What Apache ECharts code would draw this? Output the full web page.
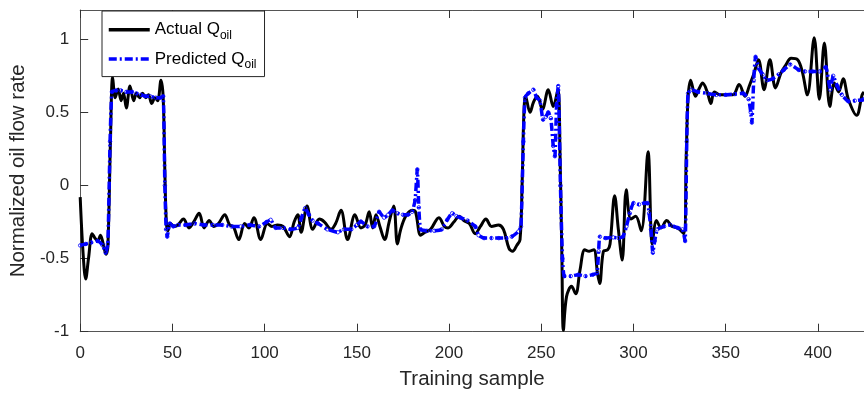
<!DOCTYPE html>
<html>
<head>
<meta charset="utf-8">
<script src="https://cdn.jsdelivr.net/npm/echarts@6/dist/echarts.min.js"></script>
<style>
  html, body { margin: 0; padding: 0; background: #fff; }
  #chart { width: 864px; height: 396px; }
</style>
</head>
<body>
<div id="chart"></div>
<script>
// Measured oil flow rate (normalized) per training sample
const actualSample = [
  0, 1.5, 3, 4.5, 6.5, 8, 9.5, 11, 12.5, 14, 15, 16.4, 17.6, 19, 20.6, 22.2, 23.5, 25, 27, 29,
  30.5, 32.2, 33.8, 35.5, 37, 38.8, 40.5, 42, 43.8, 45, 45.9, 46.7, 47.5, 49, 51, 53, 56, 59, 61.5, 64.5,
  67.2, 70, 72.5, 75, 78.4, 81, 83, 86, 89.2, 91.5, 94.2, 97.9, 101.5, 104, 107, 110, 113.5, 116, 118, 119.8,
  123, 126.1, 129.7, 132.5, 136, 138.5, 141.4, 145, 149, 152.2, 154.5, 156.7, 158.6, 160.4, 162.5, 165.1, 167.5, 170, 172, 173.8,
  176.5, 180, 181.8, 184.6, 187, 190, 194.5, 197.5, 199.5, 202.6, 205.5, 208, 211, 214.2, 217, 220, 223, 226.8, 229.5, 232.5,
  234.5, 236.7, 238.5, 239.6, 240.6, 241.5, 243.9, 245.8, 247.9, 250.6, 253.8, 256.5, 259, 260.2, 261.2, 262, 263.7, 266.4, 268.7, 271,
  273.6, 276, 278.5, 280.5, 281.7, 283.7, 286, 287.3, 289.8, 291.8, 293.9, 296.1, 298.6, 301.2, 304.2, 307.9, 310.2, 312.5, 315, 318,
  321, 324, 327.3, 328.6, 329.6, 331, 333.6, 335.5, 337.5, 340, 342, 343.8, 347, 350.5, 354, 357.3, 360.5, 362.8, 365.2, 367.8,
  370.8, 374, 377, 380, 382.4, 385.5, 389, 391.5, 394.3, 398, 400.8, 403.5, 406.5, 408.9, 411.3, 413.7, 416.5, 421, 424, 425
];
const actualValue = [
  -0.08, -0.45, -0.64, -0.5, -0.33, -0.36, -0.38, -0.34, -0.4, -0.47, -0.42, 0.3, 0.74, 0.6, 0.66, 0.58, 0.63, 0.53, 0.68, 0.58,
  0.63, 0.6, 0.63, 0.6, 0.62, 0.56, 0.6, 0.58, 0.72, 0.6, 0.1, -0.25, -0.31, -0.26, -0.28, -0.27, -0.23, -0.29, -0.25, -0.19,
  -0.29, -0.24, -0.28, -0.26, -0.2, -0.27, -0.28, -0.37, -0.26, -0.29, -0.22, -0.37, -0.26, -0.28, -0.27, -0.28, -0.35, -0.25, -0.2, -0.32,
  -0.14, -0.3, -0.23, -0.25, -0.3, -0.26, -0.17, -0.37, -0.2, -0.29, -0.27, -0.18, -0.29, -0.2, -0.28, -0.37, -0.25, -0.14, -0.4, -0.3,
  -0.21, -0.17, -0.18, -0.34, -0.32, -0.3, -0.22, -0.28, -0.29, -0.25, -0.21, -0.24, -0.26, -0.33, -0.28, -0.23, -0.28, -0.27, -0.3, -0.43,
  -0.45, -0.41, -0.37, 0.0, 0.5, 0.61, 0.5, 0.57, 0.61, 0.52, 0.655, 0.54, 0.655, 0.2, -0.5, -0.99, -0.76, -0.69, -0.74, -0.58,
  -0.44, -0.45, -0.44, -0.6, -0.67, -0.45, -0.44, -0.4, -0.07, -0.3, -0.51, -0.03, -0.23, -0.21, -0.31, 0.23, -0.4, -0.24, -0.29, -0.24,
  -0.28, -0.29, -0.33, 0.2, 0.6, 0.72, 0.61, 0.66, 0.7, 0.64, 0.56, 0.64, 0.62, 0.62, 0.62, 0.69, 0.61, 0.68, 0.76, 0.86,
  0.655, 0.86, 0.667, 0.77, 0.82, 0.87, 0.86, 0.78, 0.62, 1.01, 0.59, 0.975, 0.54, 0.7, 0.64, 0.73, 0.59, 0.48, 0.62, 0.64
];

// Model prediction for the same samples
const predSample = [
  0, 3, 6, 9.5, 12.2, 13.8, 15, 16.2, 17.2, 19.5, 22, 25, 28, 30.5, 33, 35.5, 38, 41, 43.5, 45,
  45.9, 46.6, 47.2, 48.6, 50.5, 53, 57, 62, 67, 72, 77, 82, 87, 92, 97, 101, 103.3, 106, 110, 114,
  118, 120, 122, 124, 126, 129, 134, 139.7, 143, 147, 150, 152.2, 155.8, 159.4, 162.1, 164.8, 167, 169.3, 172, 175,
  177.8, 180, 181.6, 182.8, 183.6, 184.6, 188, 192, 196, 199, 201.7, 204, 206.2, 210, 214.2, 216, 219, 223, 227, 231,
  234, 237.6, 239, 240.3, 241.2, 243, 245.7, 247.5, 249.3, 251, 252.5, 253.8, 255.2, 256.5, 257.4, 258.3, 259.2, 260.4, 261.5, 262.5,
  266, 270, 274, 278, 280.2, 281.1, 281.8, 285, 289, 292, 294.3, 296.2, 298, 300, 303, 306, 307.6, 308.5, 309.5, 310.5,
  311.5, 313, 316.6, 320, 324, 326.6, 328, 328.9, 329.6, 331.5, 335, 340, 345, 350, 355, 359.5, 362.4, 363.6, 364.2, 365.2,
  366.2, 368, 370, 372.5, 375.5, 378.8, 381.5, 385, 389.6, 393, 397, 401, 404.3, 406.7, 408.3, 410.5, 413, 416.6, 420, 424, 425
];
const predValue = [
  -0.41, -0.4, -0.39, -0.38, -0.41, -0.46, -0.4, 0.3, 0.64, 0.65, 0.65, 0.64, 0.64, 0.63, 0.62, 0.61, 0.61, 0.6, 0.6, 0.61,
  0.0, -0.3, -0.35, -0.26, -0.28, -0.27, -0.27, -0.26, -0.27, -0.27, -0.27, -0.28, -0.28, -0.27, -0.28, -0.25, -0.235, -0.29, -0.29, -0.3,
  -0.29, -0.22, -0.155, -0.2, -0.24, -0.26, -0.3, -0.32, -0.3, -0.3, -0.27, -0.246, -0.28, -0.28, -0.18, -0.22, -0.2, -0.17, -0.19, -0.2,
  -0.2, -0.18, -0.1, 0.11, -0.15, -0.3, -0.31, -0.31, -0.3, -0.235, -0.19, -0.21, -0.22, -0.24, -0.28, -0.34, -0.36, -0.36, -0.36, -0.36,
  -0.35, -0.315, -0.28, 0.3, 0.6, 0.63, 0.655, 0.6, 0.58, 0.45, 0.47, 0.5, 0.46, 0.27, 0.2, 0.55, 0.68, 0.0, -0.5, -0.62,
  -0.62, -0.61, -0.62, -0.61, -0.6, -0.45, -0.35, -0.36, -0.355, -0.36, -0.35, -0.28, -0.19, -0.12, -0.13, -0.12, -0.12, -0.19, -0.3, -0.46,
  -0.38, -0.3, -0.28, -0.27, -0.29, -0.3, -0.38, 0.3, 0.63, 0.655, 0.64, 0.63, 0.62, 0.62, 0.625, 0.63, 0.59, 0.5, 0.43, 0.72,
  0.88, 0.8, 0.76, 0.72, 0.73, 0.76, 0.79, 0.827, 0.79, 0.78, 0.78, 0.78, 0.81, 0.655, 0.75, 0.68, 0.62, 0.575, 0.58, 0.585, 0.59
];

const xTicks = [0, 50, 100, 150, 200, 250, 300, 350, 400];
const yTicks = [-1, -0.5, 0, 0.5, 1];

const FONT = '"Liberation Sans", Arial, Helvetica, sans-serif';
const INK = '#262626';

const zip = (xs, ys) => xs.map((x, i) => [x, ys[i]]);
const actualData = zip(actualSample, actualValue);
const predData = zip(predSample, predValue);

const chart = echarts.init(document.getElementById('chart'), null, { renderer: 'canvas' });

const baseX = {
  type: 'value', min: 0, max: 425,
  axisLine: { show: true, onZero: false, lineStyle: { color: '#555', width: 1 } },
  splitLine: { show: false }
};

chart.setOption({
  animation: false,
  backgroundColor: '#fff',
  grid: { left: 78, top: 10, width: 787.5, height: 321.7, containLabel: false },
  xAxis: [
    Object.assign({}, baseX, {
      position: 'bottom',
      axisTick: { show: true, inside: true, length: 8, customValues: xTicks, lineStyle: { color: '#333' } },
      axisLabel: { customValues: xTicks, color: INK, fontSize: 17, fontFamily: FONT, margin: 13 },
      name: 'Training sample', nameLocation: 'middle', nameGap: 37,
      nameTextStyle: { color: INK, fontSize: 20.5, fontFamily: FONT }
    }),
    Object.assign({}, baseX, {
      position: 'top',
      axisTick: { show: true, inside: true, length: 8, customValues: xTicks, lineStyle: { color: '#333' } },
      axisLabel: { show: false }
    })
  ],
  yAxis: {
    type: 'value', min: -1, max: 1.2,
    axisLine: { show: true, onZero: false, lineStyle: { color: '#555', width: 1 } },
    axisTick: { show: true, inside: true, length: 8, customValues: yTicks, lineStyle: { color: '#333' } },
    axisLabel: { customValues: yTicks, color: INK, fontSize: 17, fontFamily: FONT, margin: 11 },
    splitLine: { show: false },
    name: 'Normalized oil flow rate', nameLocation: 'middle', nameGap: 47,
    nameTextStyle: { color: INK, fontSize: 20.5, fontFamily: FONT }
  },
  legend: {
    data: ['Actual', 'Predicted'],
    orient: 'vertical',
    left: 102, top: 11,
    padding: [10, 8, 6, 5],
    itemGap: 9,
    itemWidth: 41, itemHeight: 22,
    // line samples only, no marker in the key
    itemStyle: { color: 'rgba(0,0,0,0)', borderWidth: 0, opacity: 0 },
    lineStyle: { width: 3.5 },
    backgroundColor: '#fff',
    borderColor: '#262626', borderWidth: 1,
    borderRadius: 0,
    textStyle: {
      color: '#000', fontFamily: FONT, fontSize: 17,
      rich: {
        m: { fontSize: 17, fontFamily: FONT, color: '#000' },
        s: { fontSize: 12, fontFamily: FONT, color: '#000', padding: [11, 0, 0, 0] }
      }
    },
    formatter: name => '{m|' + name + ' Q}{s|oil}'
  },
  series: [
    {
      name: 'Actual', type: 'line', data: actualData,
      smooth: 0.35, showSymbol: false, symbol: 'none',
      lineStyle: { color: '#000', width: 3 },
      itemStyle: { color: '#000' },
      z: 2
    },
    {
      name: 'Predicted', type: 'line', data: predData,
      smooth: 0.15, showSymbol: false, symbol: 'none',
      lineStyle: { color: '#0000ff', width: 3.5, type: [8, 3, 2, 3] },
      itemStyle: { color: '#0000ff' },
      z: 3
    },
    {
      name: 'Predicted points', type: 'scatter', data: predData,
      symbol: 'circle', symbolSize: 3.5,
      itemStyle: { color: 'rgba(0,0,0,0)', borderColor: '#0000ff', borderWidth: 1 },
      z: 4, silent: true
    }
  ]
});
</script>
</body>
</html>
